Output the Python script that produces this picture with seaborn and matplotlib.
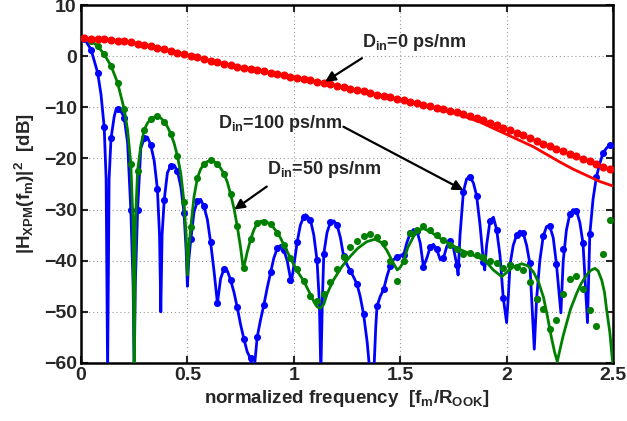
import numpy as np
import pandas as pd
import matplotlib
matplotlib.use("Agg")
import matplotlib.pyplot as plt
import seaborn as sns

# ---------------- data ----------------
# simulation sample frequencies (normalized), 80 samples
dot_x = (np.arange(80) + 0.5) / 32

red_dots = [3.5, 3.45, 3.4, 3.3, 3.2, 3.05, 2.9, 2.7, 2.45, 2.2,
            1.95, 1.65, 1.35, 1.05, 0.7, 0.4, 0.1, -0.2, -0.5, -0.9,
            -1.2, -1.5, -1.8, -2.05, -2.3, -2.55, -2.8, -3.0, -3.25, -3.5,
            -3.75, -4.0, -4.25, -4.5, -4.75, -5.0, -5.25, -5.5, -5.8, -6.05,
            -6.35, -6.6, -6.9, -7.2, -7.5, -7.75, -8.05, -8.35, -8.6, -8.9,
            -9.2, -9.5, -9.8, -10.1, -10.4, -10.7, -11.0, -11.3, -11.7, -12.1,
            -12.5, -13.0, -13.5, -14.0, -14.5, -15.0, -15.5, -16.1, -16.6, -17.1,
            -17.6, -18.1, -18.6, -19.1, -19.6, -20.1, -20.6, -21.1, -21.6, -22.1]

blue_dots = [3.4, 1.3, -3.2, -13.9, -16.1, -10.4, -12.0, -30.0, -30.0, -16.1,
             -17.4, -26.0, -28.1, -21.4, -22.5, -30.6, -35.8, -28.3, -29.4, -36.4,
             -48.3, -41.6, -43.8, -49.1, -55.4, -59.0, -54.9, -48.7, -42.3, -37.6,
             -37.9, -43.8, -36.3, -31.4, -32.0, -39.9, -38.6, -32.5, -33.0, -39.1,
             -42.0, -44.6, -50.5, -66.0, -48.9, -45.6, -41.0, -39.2, -38.9, -34.6,
             -34.1, -41.2, -37.3, -37.8, -39.5, -36.1, -40.8, -26.5, -23.6, -27.3,
             -40.2, -32.2, -33.9, -47.2, -40.8, -35.0, -34.6, -40.5, -47.4, -35.2,
             -33.3, -40.6, -37.8, -30.9, -30.2, -36.6, -34.8, -23.6, -18.9, -17.4]

green_dots = [3.5, 3.0, 2.0, 0.35, -1.9, -5.2, -10.4, -21.0, -22.4, -14.4,
              -12.3, -11.8, -12.8, -15.2, -19.5, -28.5, -33.4, -23.8, -21.1, -20.4,
              -21.1, -23.0, -27.0, -33.2, -41.5, -35.8, -32.7, -32.4, -32.8, -34.6,
              -37.0, -39.5, -41.7, -44.0, -46.9, -47.8, -46.6, -44.1, -41.6, -39.2,
              -37.3, -36.1, -35.2, -34.8, -35.3, -36.6, -40.0, -44.0, -40.1, -34.6,
              -33.9, -33.3, -34.0, -35.0, -35.9, -36.9, -37.8, -38.6, -38.4, -38.9,
              -39.2, -40.0, -40.5, -41.5, -40.8, -41.3, -41.8, -44.1, -47.4, -49.4,
              -53.4, -51.6, -46.5, -43.5, -43.0, -45.5, -49.6, -52.8, -38.6, -32.0]

# theory curves
red_line_x = [0, 0.125, 0.25, 0.375, 0.5, 0.625, 0.75, 0.875, 1.0, 1.125, 1.25, 1.375,
              1.5, 1.5625, 1.625, 1.6875, 1.75, 1.8125, 1.875, 1.9375, 2.0, 2.0625,
              2.125, 2.1875, 2.25, 2.3125, 2.375, 2.4375, 2.5]
red_line_y = [3.5, 3.25, 2.6, 1.5, 0.25, -1.05, -2.15, -3.15, -4.1, -5.1, -6.2, -7.35,
              -8.5, -9.1, -9.7, -10.4, -11.1, -11.95, -12.9, -14.1, -15.3, -16.5,
              -17.7, -19.2, -20.7, -22.1, -23.3, -24.5, -25.4]

blue_line_x = [0.0, 0.0156, 0.047, 0.078, 0.094, 0.109, 0.118, 0.125, 0.132, 0.141,
               0.156, 0.166, 0.172, 0.188, 0.203, 0.219, 0.234, 0.245, 0.25, 0.255,
               0.266, 0.281, 0.297, 0.312, 0.328, 0.344, 0.359, 0.369, 0.375, 0.381,
               0.391, 0.406, 0.422, 0.438, 0.453, 0.469, 0.484, 0.494, 0.5, 0.506,
               0.516, 0.531, 0.547, 0.562, 0.578, 0.594, 0.609, 0.625, 0.641, 0.656,
               0.672, 0.688, 0.703, 0.719, 0.734, 0.75, 0.766, 0.781, 0.797, 0.81,
               0.828, 0.844, 0.859, 0.875, 0.891, 0.906, 0.922, 0.938, 0.953, 0.969,
               0.988, 1.0, 1.016, 1.031, 1.047, 1.055, 1.062, 1.078, 1.094, 1.109,
               1.12, 1.127, 1.134, 1.141, 1.156, 1.172, 1.188, 1.203, 1.219, 1.234,
               1.25, 1.266, 1.281, 1.297, 1.312, 1.328, 1.345, 1.36, 1.375, 1.385,
               1.391, 1.406, 1.422, 1.438, 1.453, 1.469, 1.484, 1.5, 1.516, 1.531,
               1.547, 1.562, 1.578, 1.594, 1.609, 1.625, 1.641, 1.656, 1.672, 1.688,
               1.703, 1.719, 1.734, 1.75, 1.766, 1.772, 1.781, 1.797, 1.812, 1.828,
               1.844, 1.859, 1.875, 1.891, 1.897, 1.906, 1.922, 1.938, 1.953, 1.969,
               1.984, 2.0, 2.008, 2.016, 2.031, 2.047, 2.062, 2.078, 2.094, 2.109,
               2.13, 2.141, 2.156, 2.172, 2.188, 2.203, 2.219, 2.234, 2.255, 2.266,
               2.281, 2.297, 2.312, 2.328, 2.344, 2.359, 2.38, 2.391, 2.406, 2.422,
               2.438, 2.453, 2.469, 2.484, 2.5]
blue_line_y = [3.5, 3.4, 1.3, -3.2, -7.5, -13.9, -24.0, -62.0, -24.0, -16.1,
               -11.8, -10.2, -10.4, -10.8, -12.0, -17.0, -30.0, -45.0, -62.0, -45.0,
               -30.0, -18.0, -16.1, -15.8, -17.4, -20.5, -26.0, -35.0, -50.0, -35.0,
               -28.1, -22.8, -21.4, -21.3, -22.5, -25.5, -30.6, -38.0, -45.0, -40.0,
               -35.8, -30.5, -28.3, -28.0, -29.4, -32.0, -36.4, -42.0, -48.3, -43.5,
               -41.6, -42.0, -43.8, -46.2, -49.1, -52.5, -55.4, -57.8, -59.2, -63.0,
               -54.9, -51.5, -48.7, -45.3, -42.3, -39.5, -37.6, -37.0, -37.9, -40.0,
               -44.3, -41.0, -36.3, -33.0, -31.4, -31.0, -31.2, -32.0, -35.0, -39.9,
               -48.0, -62.0, -48.0, -38.6, -34.5, -32.5, -32.2, -33.0, -35.5, -39.1,
               -40.8, -42.0, -43.2, -44.6, -47.0, -50.5, -56.0, -63.0, -63.0, -53.0,
               -48.9, -47.0, -45.6, -43.0, -41.0, -39.8, -39.2, -39.0, -38.9, -36.5,
               -34.6, -33.9, -34.1, -36.5, -41.2, -39.5, -37.3, -36.8, -37.8, -39.8,
               -39.5, -37.2, -36.1, -37.5, -40.8, -42.8, -35.0, -26.5, -24.0, -23.6,
               -24.8, -27.3, -33.0, -40.2, -41.8, -37.0, -32.2, -31.5, -33.9, -39.0,
               -47.2, -52.1, -47.0, -40.8, -37.0, -35.0, -34.2, -34.6, -37.0, -40.5,
               -57.3, -47.4, -40.0, -35.2, -33.3, -33.3, -35.5, -40.6, -50.2, -40.0,
               -34.0, -30.9, -30.0, -30.2, -32.5, -36.6, -52.1, -34.8, -28.0, -23.6,
               -21.0, -18.9, -18.0, -17.4, -17.2]

green_line_x = [0.0, 0.016, 0.047, 0.078, 0.109, 0.141, 0.172, 0.203, 0.219, 0.234,
                0.244, 0.25, 0.256, 0.266, 0.281, 0.297, 0.312, 0.328, 0.344, 0.359,
                0.375, 0.391, 0.406, 0.422, 0.438, 0.453, 0.469, 0.484, 0.494, 0.5,
                0.506, 0.516, 0.531, 0.547, 0.562, 0.578, 0.594, 0.609, 0.625, 0.641,
                0.656, 0.672, 0.688, 0.703, 0.719, 0.734, 0.75, 0.763, 0.78, 0.797,
                0.812, 0.828, 0.844, 0.859, 0.875, 0.891, 0.906, 0.922, 0.938, 0.953,
                0.969, 0.984, 1.0, 1.016, 1.047, 1.078, 1.094, 1.109, 1.125, 1.141,
                1.156, 1.186, 1.225, 1.264, 1.3, 1.342, 1.38, 1.41, 1.436, 1.468,
                1.486, 1.5, 1.515, 1.535, 1.562, 1.585, 1.609, 1.64, 1.687, 1.735,
                1.781, 1.83, 1.875, 1.91, 1.937, 1.977, 2.0, 2.032, 2.071, 2.1,
                2.126, 2.15, 2.173, 2.19, 2.21, 2.225, 2.238, 2.25, 2.265, 2.282,
                2.3, 2.329, 2.35, 2.376, 2.395, 2.415, 2.43, 2.447, 2.46, 2.47,
                2.485, 2.494, 2.5]
green_line_y = [3.5, 3.5, 3.0, 2.0, 0.35, -1.9, -5.2, -10.4, -14.5, -21.0,
                -32.0, -62.0, -32.0, -22.4, -17.5, -14.4, -13.1, -12.3, -11.9, -11.8,
                -12.1, -12.8, -13.8, -15.2, -17.1, -19.5, -23.0, -28.5, -35.0, -42.8,
                -38.0, -33.4, -27.5, -23.8, -22.1, -21.1, -20.6, -20.4, -20.6, -21.1,
                -21.9, -23.0, -24.7, -27.0, -29.8, -33.2, -37.5, -41.7, -38.5, -35.8,
                -34.0, -32.7, -32.3, -32.2, -32.5, -32.9, -33.6, -34.5, -35.6, -36.9,
                -38.2, -39.5, -40.8, -42.0, -44.0, -46.6, -48.0, -49.0, -49.3, -48.5,
                -46.5, -43.8, -41.2, -39.2, -37.6, -36.3, -35.8, -36.4, -37.9, -40.5,
                -41.8, -41.3, -40.2, -37.5, -35.3, -34.1, -33.7, -34.3, -35.6, -36.8,
                -37.8, -38.7, -39.5, -40.5, -41.8, -43.1, -42.3, -41.2, -40.6, -41.0,
                -42.2, -44.2, -47.1, -50.5, -54.9, -57.8, -59.7, -57.5, -54.8, -52.2,
                -49.5, -46.4, -44.5, -42.8, -41.9, -41.5, -42.0, -43.8, -46.2, -49.6,
                -54.0, -58.1, -60.5]

x_ticks = [0, 0.5, 1, 1.5, 2, 2.5]
x_tick_labels = ["0", "0.5", "1", "1.5", "2", "2.5"]
y_ticks = [-60, -50, -40, -30, -20, -10, 0, 10]
y_tick_labels = ["\u221260", "\u221250", "\u221240", "\u221230", "\u221220", "\u221210", "0", "10"]

# ---------------- style ----------------
sns.set_theme(style="ticks")
plt.rcParams["font.family"] = ["Liberation Sans", "DejaVu Sans"]
plt.rcParams["font.weight"] = "bold"
plt.rcParams["mathtext.fontset"] = "custom"
plt.rcParams["mathtext.rm"] = "Liberation Sans:bold"
plt.rcParams["mathtext.it"] = "Liberation Sans:bold"
plt.rcParams["mathtext.bf"] = "Liberation Sans:bold"
plt.rcParams["mathtext.default"] = "regular"

BLUE = (0, 0, 1)
GREEN = (0.0, 0.5, 0.0)
RED = (1, 0, 0)

fig = plt.figure(figsize=(6.27, 4.21), dpi=100)
ax = fig.add_axes([0.1292, 0.1378, 0.8485, 0.8503])

ax.set_xlim(0, 2.5)
ax.set_ylim(-60, 10)
ax.grid(True, linestyle=(0, (1, 2.5)), color="#9a9a9a", linewidth=0.8)
ax.set_axisbelow(True)

# blue (D_in = 100 ps/nm)
sns.lineplot(x=blue_line_x, y=blue_line_y, color=BLUE, linewidth=2.0, sort=False,
             estimator=None, ax=ax, zorder=3)
sns.scatterplot(x=dot_x, y=blue_dots, color=BLUE, s=26, linewidth=0, ax=ax, zorder=3)

# green (D_in = 50 ps/nm)
sns.lineplot(x=green_line_x, y=green_line_y, color=GREEN, linewidth=2.0, sort=False,
             estimator=None, ax=ax, zorder=4)
sns.scatterplot(x=dot_x, y=green_dots, color=GREEN, s=26, linewidth=0, ax=ax, zorder=4)

# red (D_in = 0 ps/nm)
sns.lineplot(x=red_line_x, y=red_line_y, color=RED, linewidth=2.0, sort=False,
             estimator=None, ax=ax, zorder=5)
sns.scatterplot(x=dot_x, y=red_dots, color=RED, s=34, linewidth=0, ax=ax, zorder=5)

ax.set_xticks(x_ticks)
ax.set_xticklabels(x_tick_labels)
ax.set_yticks(y_ticks)
ax.set_yticklabels(y_tick_labels)
ax.tick_params(axis="both", direction="in", length=5, width=1.5, labelsize=14,
               top=True, right=True, pad=3)
for lab in ax.get_xticklabels() + ax.get_yticklabels():
    lab.set_fontweight("bold")
for sp in ax.spines.values():
    sp.set_visible(True)
    sp.set_linewidth(1.8)
    sp.set_color("black")

ax.set_xlabel("normalized frequency  [$f_m/R_{OOK}$]", fontsize=13.5, fontweight="bold",
              labelpad=3)
ax.set_ylabel("$|H_{XPM}(f_m)|^2$  [dB]", fontsize=13.5, fontweight="bold", labelpad=5)

# annotations
arrow = dict(arrowstyle="-|>", color="black", lw=1.6, mutation_scale=15,
             shrinkA=0, shrinkB=0)
ax.text(1.32, 1.8, "$D_{in}$=0 ps/nm", fontsize=13, fontweight="bold",
        ha="left", va="baseline", zorder=6)
ax.annotate("", xy=(1.147, -5.0), xytext=(1.32, -0.4), arrowprops=arrow, zorder=6)

ax.text(0.644, -14.05, "$D_{in}$=100 ps/nm", fontsize=13, fontweight="bold",
        ha="left", va="baseline", zorder=6)
ax.annotate("", xy=(1.797, -26.2), xytext=(1.233, -13.8), arrowprops=arrow, zorder=6)

ax.text(0.873, -23.05, "$D_{in}$=50 ps/nm", fontsize=13, fontweight="bold",
        ha="left", va="baseline", zorder=6)
ax.annotate("", xy=(0.72, -30.0), xytext=(0.873, -25.5), arrowprops=arrow, zorder=6)

fig.savefig("out.png", dpi=100)
